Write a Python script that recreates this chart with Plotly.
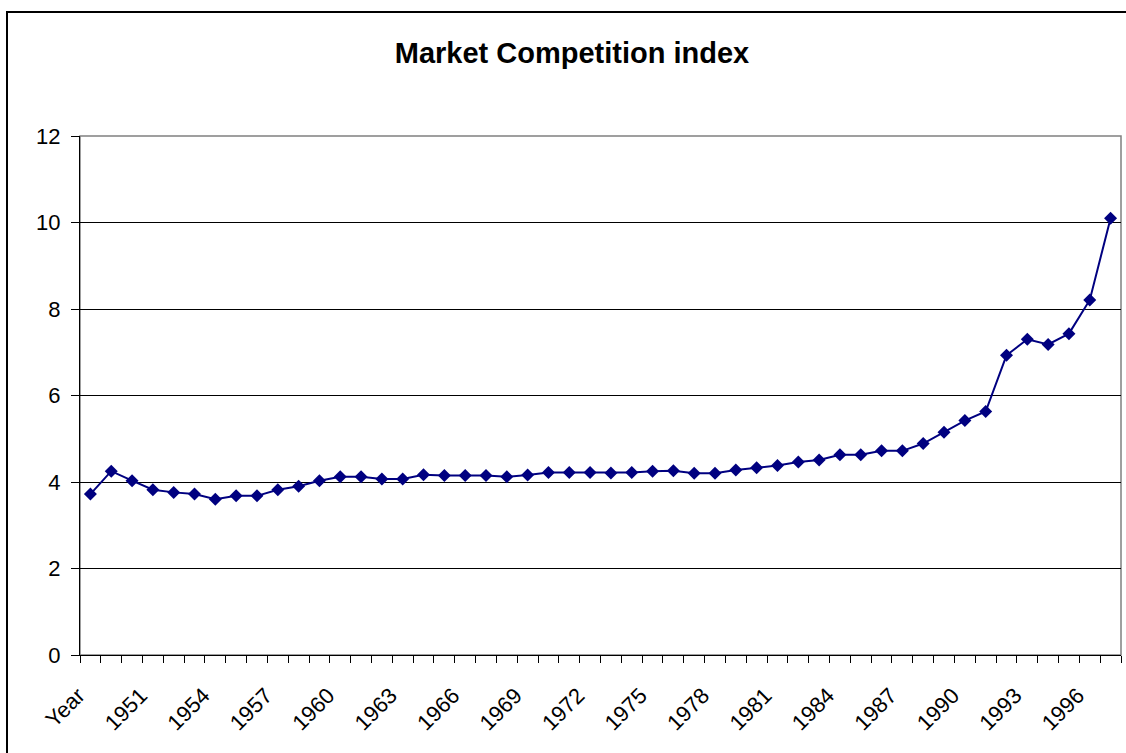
import plotly.graph_objects as go

# Category labels along the horizontal axis (first cell is the column header)
categories = [
    "Year", "1949", "1950", "1951", "1952", "1953", "1954", "1955", "1956", "1957",
    "1958", "1959", "1960", "1961", "1962", "1963", "1964", "1965", "1966", "1967",
    "1968", "1969", "1970", "1971", "1972", "1973", "1974", "1975", "1976", "1977",
    "1978", "1979", "1980", "1981", "1982", "1983", "1984", "1985", "1986", "1987",
    "1988", "1989", "1990", "1991", "1992", "1993", "1994", "1995", "1996", "1997",
]

# Market competition index per category
index_values = [
    3.72, 4.25, 4.03, 3.82, 3.76, 3.72, 3.60, 3.68, 3.68, 3.82,
    3.90, 4.03, 4.12, 4.12, 4.07, 4.07, 4.17, 4.15, 4.15, 4.15,
    4.12, 4.16, 4.22, 4.22, 4.22, 4.21, 4.22, 4.25, 4.26, 4.20,
    4.20, 4.28, 4.33, 4.38, 4.46, 4.51, 4.63, 4.63, 4.72, 4.72,
    4.89, 5.15, 5.42, 5.63, 6.93, 7.30, 7.18, 7.43, 8.21, 10.10,
]

# Every third category gets a label
label_step = 3
y_ticks = [0, 2, 4, 6, 8, 10, 12]

positions = list(range(len(categories)))
label_pos = positions[::label_step]
label_text = categories[::label_step]

FONT = "Liberation Sans, Arial, sans-serif"
TICK_SIZE = 22

fig = go.Figure()
fig.add_trace(go.Scatter(
    x=positions,
    y=index_values,
    mode="lines+markers",
    line=dict(color="#000080", width=2),
    marker=dict(symbol="diamond", size=10, color="#000080"),
    showlegend=False,
))

fig.update_layout(
    width=1126,
    height=753,
    margin=dict(l=80, r=5, t=136, b=98),
    paper_bgcolor="white",
    plot_bgcolor="white",
    font=dict(family=FONT, color="black", size=TICK_SIZE),
    title=dict(
        text="<b>Market Competition index</b>",
        font=dict(family=FONT, size=29, color="black"),
        xref="container", x=0.508, xanchor="center",
        yref="container", y=1 - 53 / 753, yanchor="middle",
    ),
    xaxis=dict(
        range=[-0.5, len(categories) - 0.5],
        tickmode="array",
        tickvals=label_pos,
        ticktext=label_text,
        tickangle=-45,
        ticks="outside",
        ticklen=0,
        ticklabelstandoff=18,
        ticklabelshift=-12,
        tickfont=dict(family=FONT, size=TICK_SIZE, color="black"),
        showgrid=False,
        zeroline=False,
        showline=True,
        linecolor="black",
        linewidth=1,
        minor=dict(
            tick0=-0.5, dtick=1, ticks="outside", ticklen=7,
            tickcolor="black", tickwidth=1, showgrid=False,
        ),
    ),
    yaxis=dict(
        range=[0, 12],
        tickmode="array",
        tickvals=y_ticks,
        ticks="outside",
        ticklen=8,
        tickcolor="black",
        ticklabelstandoff=6,
        tickfont=dict(family=FONT, size=TICK_SIZE, color="black"),
        showgrid=True,
        gridcolor="black",
        gridwidth=1,
        zeroline=False,
        showline=True,
        linecolor="black",
        linewidth=1,
    ),
    shapes=[
        # grey plot-area border (top and right sides show)
        dict(type="rect", xref="paper", yref="paper", x0=0, x1=1, y0=0, y1=1,
             line=dict(color="#808080", width=1.5), layer="below"),
        # outer chart frame
        dict(type="rect", xref="paper", yref="paper",
             x0=(7 - 80) / 1041, x1=1.08, y0=-0.3, y1=(655 - 12) / 519,
             line=dict(color="black", width=2), layer="above"),
    ],
)

fig.write_html("out.html")
